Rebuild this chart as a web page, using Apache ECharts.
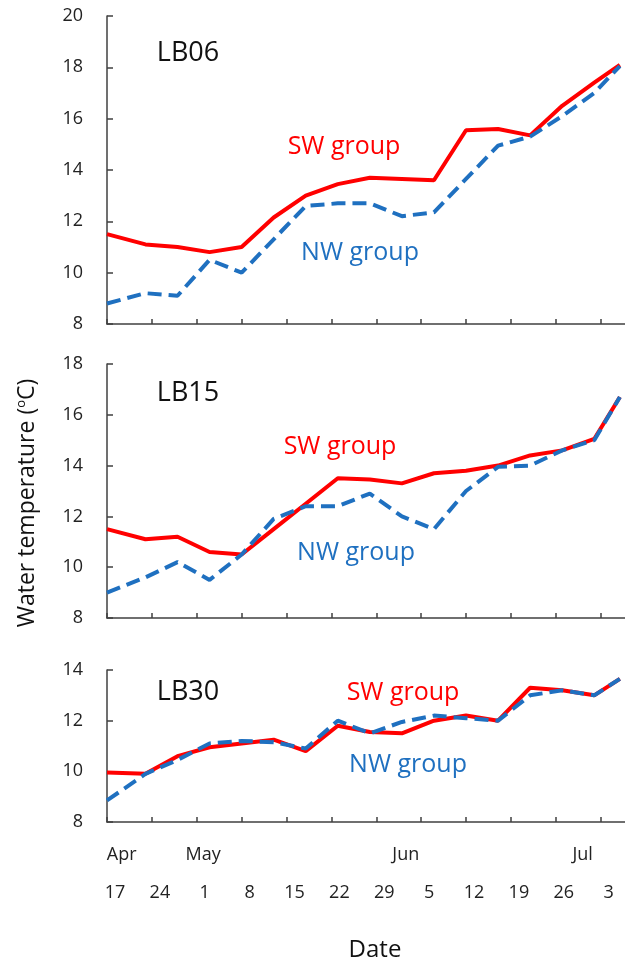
<!DOCTYPE html>
<html>
<head>
<meta charset="utf-8">
<script src="https://cdn.jsdelivr.net/npm/echarts@6/dist/echarts.min.js"></script>
<style>
  html, body { margin: 0; padding: 0; background: #fff; }
  #main { width: 625px; height: 962px; }
</style>
</head>
<body>
<div id="main"></div>
<script>
// sampling days, counted from Apr 17
const days = [0, 6, 11, 16, 21, 26, 31, 36, 41, 46, 51, 56, 61, 66, 71, 76, 80];

// LB06
const sw06 = [11.5, 11.1, 11.0, 10.8, 11.0, 12.15, 13.0, 13.45, 13.7, 13.65, 13.6, 15.55, 15.6, 15.35, 16.5, 17.4, 18.1];
const nw06 = [8.8, 9.2, 9.1, 10.5, 10.0, 11.3, 12.6, 12.7, 12.7, 12.2, 12.35, 13.65, 14.95, 15.3, 16.1, 17.0, 18.05];
// LB15
const sw15 = [11.5, 11.1, 11.2, 10.6, 10.5, 11.5, 12.5, 13.5, 13.45, 13.3, 13.7, 13.8, 14.0, 14.4, 14.6, 15.05, 16.7];
const nw15 = [9.0, 9.6, 10.2, 9.5, 10.5, 11.9, 12.4, 12.4, 12.9, 12.0, 11.5, 13.0, 13.95, 14.0, 14.6, 15.0, 16.7];
// LB30
const sw30 = [9.95, 9.9, 10.6, 10.95, 11.1, 11.25, 10.8, 11.8, 11.55, 11.5, 12.0, 12.2, 12.0, 13.3, 13.2, 13.0, 13.65];
const nw30 = [8.85, 9.9, 10.45, 11.1, 11.2, 11.15, 10.9, 12.0, 11.5, 11.95, 12.2, 12.1, 12.0, 13.0, 13.2, 13.0, 13.65];

// x axis ticks (weekly) and labels
const dateTicks = [0, 7, 14, 21, 28, 35, 42, 49, 56, 63, 70, 77];
const dateLabels = ['17', '24', '1', '8', '15', '22', '29', '5', '12', '19', '26', '3'];
const monthDays = [2.3, 15, 46.6, 74.2];
const monthLabels = ['Apr', 'May', 'Jun', 'Jul'];

const panelNames = ['LB06', 'LB15', 'LB30'];
const yMax = [20, 18, 14];
const yMin = 8;

const FONT = '"Open Sans", sans-serif';
const RED = '#ff0000';
const BLUE = '#1f70c0';
const AXIS = '#404040';

const chart = echarts.init(document.getElementById('main'), null, { renderer: 'canvas' });

const grids = [
  { left: 107, top: 16, width: 518, height: 308 },
  { left: 107, top: 364, width: 518, height: 254 },
  { left: 107, top: 670, width: 518, height: 152 }
];

const xAxes = grids.map((g, i) => ({
  type: 'value',
  gridIndex: i,
  position: 'bottom',
  min: 0,
  max: 80.8,
  axisLine: { show: true, lineStyle: { color: AXIS, width: 1.5 } },
  axisTick: { show: true, inside: true, length: 5, customValues: dateTicks, lineStyle: { color: AXIS, width: 1.5 } },
  axisLabel: {
    show: i === 2,
    customValues: dateTicks,
    margin: 62,
    padding: [0, 0, 0, 16],
    fontFamily: FONT, fontSize: 18, color: '#222',
    formatter: v => dateLabels[dateTicks.indexOf(v)]
  },
  splitLine: { show: false }
}));

// month row under the bottom panel
xAxes.push({
  type: 'value',
  gridIndex: 2,
  position: 'bottom',
  offset: 0,
  min: 0,
  max: 80.8,
  axisLine: { show: false },
  axisTick: { show: false },
  axisLabel: {
    show: true,
    customValues: monthDays,
    margin: 24,
    fontFamily: FONT, fontSize: 18, color: '#222',
    formatter: v => monthLabels[monthDays.indexOf(v)]
  },
  splitLine: { show: false }
});

const yAxes = grids.map((g, i) => ({
  type: 'value',
  gridIndex: i,
  min: yMin,
  max: yMax[i],
  interval: 2,
  axisLine: { show: true, lineStyle: { color: AXIS, width: 1.5 } },
  axisTick: { show: true, inside: true, length: 6, lineStyle: { color: AXIS, width: 1.5 } },
  axisLabel: { margin: 24, fontFamily: FONT, fontSize: 18, color: '#222' },
  splitLine: { show: false }
}));

const pairs = [[sw06, nw06], [sw15, nw15], [sw30, nw30]];
const series = [];
pairs.forEach((p, i) => {
  series.push({
    name: 'SW group', type: 'line', xAxisIndex: i, yAxisIndex: i,
    symbol: 'none', z: 2,
    lineStyle: { color: RED, width: 4 },
    data: days.map((d, k) => [d, p[0][k]])
  });
  series.push({
    name: 'NW group', type: 'line', xAxisIndex: i, yAxisIndex: i,
    symbol: 'none', z: 3,
    lineStyle: { color: BLUE, width: 4, type: [14, 7], cap: 'butt' },
    data: days.map((d, k) => [d, p[1][k]])
  });
});

// text annotations
const txt = (x, y, text, size, color) => ({
  type: 'text', x: x, y: y,
  style: { text: text, fontFamily: FONT, fontSize: size, fill: color, align: 'center', verticalAlign: 'middle' }
});

const graphic = [
  txt(188, 53, panelNames[0], 27, '#111'),
  txt(188, 393, panelNames[1], 27, '#111'),
  txt(188, 692, panelNames[2], 27, '#111'),
  txt(344, 147, 'SW group', 25, RED),
  txt(360, 253, 'NW group', 25, BLUE),
  txt(340, 447, 'SW group', 25, RED),
  txt(356, 553, 'NW group', 25, BLUE),
  txt(403, 693, 'SW group', 25, RED),
  txt(408, 765, 'NW group', 25, BLUE),
  txt(375, 950, 'Date', 24, '#111'),
  {
    type: 'text', x: 27, y: 503, rotation: Math.PI / 2,
    style: {
      text: 'Water temperature ({s|o}C)',
      rich: { s: { fontFamily: FONT, fontSize: 13, fill: '#111', padding: [0, 0, 12, 0] } },
      fontFamily: FONT, fontSize: 23, fill: '#111', align: 'center', verticalAlign: 'middle'
    }
  }
];

chart.setOption({
  animation: false,
  backgroundColor: '#fff',
  grid: grids,
  xAxis: xAxes,
  yAxis: yAxes,
  series: series,
  graphic: graphic
});
</script>
</body>
</html>
